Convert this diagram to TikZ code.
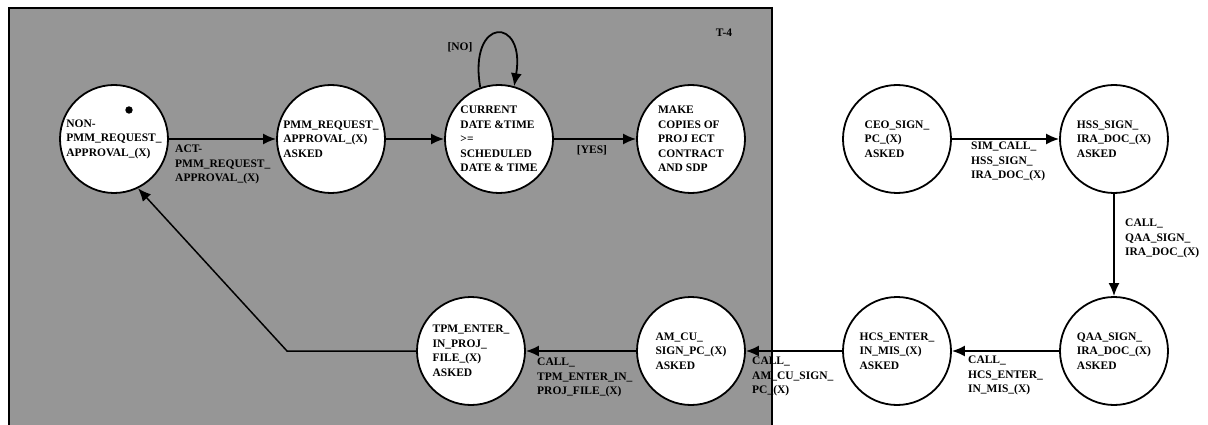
\documentclass[tikz,border=0pt]{standalone}
\usepackage{fontspec}
\setmainfont{Liberation Serif}
\usetikzlibrary{arrows.meta}
\definecolor{panelgray}{RGB}{150,150,150}
\tikzset{
  every node/.style={font=\bfseries\fontsize{11.5}{14.5}\selectfont},
  state/.style={circle, draw=black, fill=white, line width=1.8pt, minimum size=108pt, inner sep=0pt, align=left},
  lbl/.style={anchor=north west, inner sep=0pt, align=left},
  arr/.style={line width=1.8pt, -{Latex[length=13pt,width=11pt]}},
}
\begin{document}
\begin{tikzpicture}[x=1pt,y=-1pt]
\useasboundingbox (0,0) rectangle (1208,425);
% panel
\fill[panelgray] (9,8) rectangle (772,425);
\draw[line width=1.2pt] (9,425) -- (9,8);
\draw[line width=2pt] (8,8) -- (773,8);
\draw[line width=2.5pt] (772,7) -- (772,425);
\node (t4) at (724,33) {T-4};
% states
\node[state] (n1) at (114,139) {NON-\\PMM\_REQUEST\_\\APPROVAL\_(X)};
\node[circle, fill=black, draw=black, line width=0.8pt, minimum size=6.5pt, inner sep=0pt] (dot) at (129,110) {};
\node[state] (n2) at (331,139) {PMM\_REQUEST\_\\APPROVAL\_(X)\\ASKED};
\node[state] (n3) at (499,139) {CURRENT\\DATE \&TIME\\>=\\SCHEDULED\\DATE \& TIME};
\node[state] (n4) at (691,139) {MAKE\\COPIES OF\\PROJ ECT\\CONTRACT\\AND SDP};
\node[state] (ceo) at (897,139) {CEO\_SIGN\_\\PC\_(X)\\ASKED};
\node[state] (hss) at (1114,139) {HSS\_SIGN\_\\IRA\_DOC\_(X)\\ASKED};
\node[state] (qaa) at (1114,351) {QAA\_SIGN\_\\IRA\_DOC\_(X)\\ASKED};
\node[state] (hcs) at (897,351) {HCS\_ENTER\_\\IN\_MIS\_(X)\\ASKED};
\node[state] (am) at (691,351) {AM\_CU\_\\SIGN\_PC\_(X)\\ASKED};
\node[state] (tpm) at (471,351) {TPM\_ENTER\_\\IN\_PROJ\_\\FILE\_(X)\\ASKED};
\coordinate (bend) at (287,351);
% connectors
\draw[arr] (n1) -- (n2);
\draw[arr] (n2) -- (n3);
\draw[arr] (n3) -- (n4);
\draw[arr] (n3.110) .. controls (468,16) and (526,16) .. (n3.74);
\draw[arr] (ceo) -- (hss);
\draw[arr] (hss) -- (qaa);
\draw[arr] (qaa) -- (hcs);
\draw[arr] (hcs) -- (am);
\draw[arr] (am) -- (tpm);
\draw[arr, line width=1.5pt] (tpm.west) -- (bend) -- (n1.-64);
% labels
\node[lbl] (l1) at (175,145) {ACT-\\PMM\_REQUEST\_\\APPROVAL\_(X)};
\node (lno) at (460,47) {[NO]};
\node (lyes) at (592,150) {[YES]};
\node[lbl] (l2) at (971,142) {SIM\_CALL\_\\HSS\_SIGN\_\\IRA\_DOC\_(X)};
\node[lbl] (l3) at (1125,219) {CALL\_\\QAA\_SIGN\_\\IRA\_DOC\_(X)};
\node[lbl] (l4) at (968,356) {CALL\_\\HCS\_ENTER\_\\IN\_MIS\_(X)};
\node[lbl] (l5) at (752,357) {CALL\_\\AM\_CU\_SIGN\_\\PC\_(X)};
\node[lbl] (l6) at (537,358) {CALL\_\\TPM\_ENTER\_IN\_\\PROJ\_FILE\_(X)};
\end{tikzpicture}
\end{document}
